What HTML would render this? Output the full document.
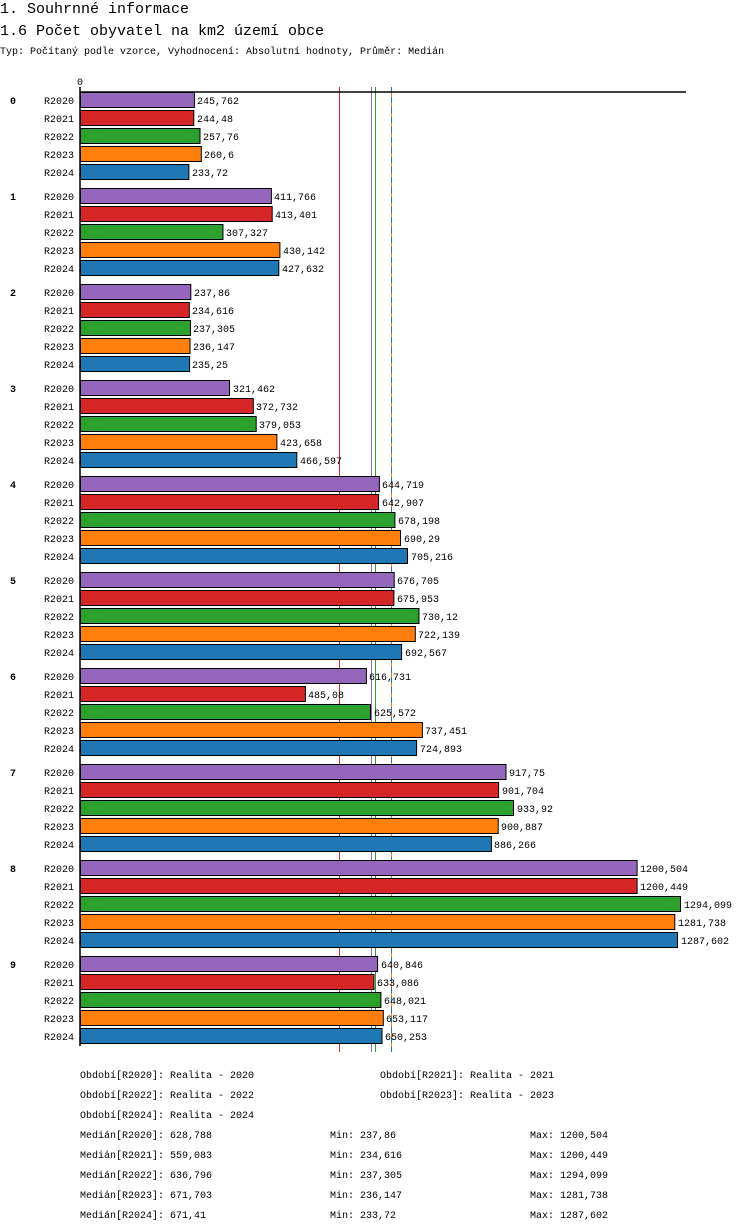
<!DOCTYPE html>
<html><head><meta charset="utf-8"><style>
body{margin:0;background:#fff;width:750px;height:1232px;overflow:hidden}
svg{display:block;font-family:"Liberation Mono",monospace}
.t{font-size:10px;fill:#000}
.h{font-size:15px;font-weight:normal;fill:#000}
.g{font-size:10px;font-weight:bold}
rect{stroke:#000;stroke-width:1}
.a{fill:#9467bd}.b{fill:#d62728}.c{fill:#2ca02c}.d{fill:#ff7f0e}.e{fill:#1f77b4}
.l{text-anchor:end}
</style></head><body>
<svg width="750" height="1232" viewBox="0 0 750 1232">
<text class="h" x="0" y="13">1. Souhrnné informace</text>
<text class="h" x="0" y="35">1.6 Počet obyvatel na km2 území obce</text>
<text class="t" x="0" y="54">Typ: Počítaný podle vzorce, Vyhodnocení: Absolutní hodnoty, Průměr: Medián</text>
<text class="t" x="77" y="85">0</text>
<line x1="339.5" y1="87" x2="339.5" y2="1052" stroke="#d62728"/>
<line x1="371.5" y1="87" x2="371.5" y2="1052" stroke="#9467bd"/>
<line x1="375.5" y1="87" x2="375.5" y2="1052" stroke="#2ca02c"/>
<line x1="391.5" y1="87" x2="391.5" y2="1052" stroke="#ff7f0e"/>
<line x1="391.5" y1="87" x2="391.5" y2="1052" stroke="#1f77b4" stroke-dasharray="6,4"/>
<line x1="80" y1="92" x2="686" y2="92" stroke="#000" stroke-width="1.5"/>
<line x1="80" y1="87" x2="80" y2="1046" stroke="#000" stroke-width="1.5"/>

<g transform="translate(0,92)">
<text class="g" x="10" y="12">0</text>
<text class="t l" x="74" y="12">R2020</text><text class="t l" x="74" y="30">R2021</text><text class="t l" x="74" y="48">R2022</text><text class="t l" x="74" y="66">R2023</text><text class="t l" x="74" y="84">R2024</text>
<rect class="a" x="80.5" y="0.5" width="113.9" height="15"/><text class="t" x="197" y="12">245,762</text>
<rect class="b" x="80.5" y="18.5" width="113.3" height="15"/><text class="t" x="197" y="30">244,48</text>
<rect class="c" x="80.5" y="36.5" width="119.5" height="15"/><text class="t" x="203" y="48">257,76</text>
<rect class="d" x="80.5" y="54.5" width="120.8" height="15"/><text class="t" x="204" y="66">260,6</text>
<rect class="e" x="80.5" y="72.5" width="108.4" height="15"/><text class="t" x="192" y="84">233,72</text>
</g>
<g transform="translate(0,188)">
<text class="g" x="10" y="12">1</text>
<text class="t l" x="74" y="12">R2020</text><text class="t l" x="74" y="30">R2021</text><text class="t l" x="74" y="48">R2022</text><text class="t l" x="74" y="66">R2023</text><text class="t l" x="74" y="84">R2024</text>
<rect class="a" x="80.5" y="0.5" width="190.9" height="15"/><text class="t" x="274" y="12">411,766</text>
<rect class="b" x="80.5" y="18.5" width="191.7" height="15"/><text class="t" x="275" y="30">413,401</text>
<rect class="c" x="80.5" y="36.5" width="142.5" height="15"/><text class="t" x="226" y="48">307,327</text>
<rect class="d" x="80.5" y="54.5" width="199.4" height="15"/><text class="t" x="283" y="66">430,142</text>
<rect class="e" x="80.5" y="72.5" width="198.3" height="15"/><text class="t" x="282" y="84">427,632</text>
</g>
<g transform="translate(0,284)">
<text class="g" x="10" y="12">2</text>
<text class="t l" x="74" y="12">R2020</text><text class="t l" x="74" y="30">R2021</text><text class="t l" x="74" y="48">R2022</text><text class="t l" x="74" y="66">R2023</text><text class="t l" x="74" y="84">R2024</text>
<rect class="a" x="80.5" y="0.5" width="110.3" height="15"/><text class="t" x="194" y="12">237,86</text>
<rect class="b" x="80.5" y="18.5" width="108.8" height="15"/><text class="t" x="192" y="30">234,616</text>
<rect class="c" x="80.5" y="36.5" width="110.0" height="15"/><text class="t" x="193" y="48">237,305</text>
<rect class="d" x="80.5" y="54.5" width="109.5" height="15"/><text class="t" x="193" y="66">236,147</text>
<rect class="e" x="80.5" y="72.5" width="109.1" height="15"/><text class="t" x="192" y="84">235,25</text>
</g>
<g transform="translate(0,380)">
<text class="g" x="10" y="12">3</text>
<text class="t l" x="74" y="12">R2020</text><text class="t l" x="74" y="30">R2021</text><text class="t l" x="74" y="48">R2022</text><text class="t l" x="74" y="66">R2023</text><text class="t l" x="74" y="84">R2024</text>
<rect class="a" x="80.5" y="0.5" width="149.0" height="15"/><text class="t" x="233" y="12">321,462</text>
<rect class="b" x="80.5" y="18.5" width="172.8" height="15"/><text class="t" x="256" y="30">372,732</text>
<rect class="c" x="80.5" y="36.5" width="175.7" height="15"/><text class="t" x="259" y="48">379,053</text>
<rect class="d" x="80.5" y="54.5" width="196.4" height="15"/><text class="t" x="280" y="66">423,658</text>
<rect class="e" x="80.5" y="72.5" width="216.3" height="15"/><text class="t" x="300" y="84">466,597</text>
</g>
<g transform="translate(0,476)">
<text class="g" x="10" y="12">4</text>
<text class="t l" x="74" y="12">R2020</text><text class="t l" x="74" y="30">R2021</text><text class="t l" x="74" y="48">R2022</text><text class="t l" x="74" y="66">R2023</text><text class="t l" x="74" y="84">R2024</text>
<rect class="a" x="80.5" y="0.5" width="298.9" height="15"/><text class="t" x="382" y="12">644,719</text>
<rect class="b" x="80.5" y="18.5" width="298.1" height="15"/><text class="t" x="382" y="30">642,907</text>
<rect class="c" x="80.5" y="36.5" width="314.4" height="15"/><text class="t" x="398" y="48">678,198</text>
<rect class="d" x="80.5" y="54.5" width="320.0" height="15"/><text class="t" x="404" y="66">690,29</text>
<rect class="e" x="80.5" y="72.5" width="327.0" height="15"/><text class="t" x="411" y="84">705,216</text>
</g>
<g transform="translate(0,572)">
<text class="g" x="10" y="12">5</text>
<text class="t l" x="74" y="12">R2020</text><text class="t l" x="74" y="30">R2021</text><text class="t l" x="74" y="48">R2022</text><text class="t l" x="74" y="66">R2023</text><text class="t l" x="74" y="84">R2024</text>
<rect class="a" x="80.5" y="0.5" width="313.7" height="15"/><text class="t" x="397" y="12">676,705</text>
<rect class="b" x="80.5" y="18.5" width="313.4" height="15"/><text class="t" x="397" y="30">675,953</text>
<rect class="c" x="80.5" y="36.5" width="338.5" height="15"/><text class="t" x="422" y="48">730,12</text>
<rect class="d" x="80.5" y="54.5" width="334.8" height="15"/><text class="t" x="418" y="66">722,139</text>
<rect class="e" x="80.5" y="72.5" width="321.1" height="15"/><text class="t" x="405" y="84">692,567</text>
</g>
<g transform="translate(0,668)">
<text class="g" x="10" y="12">6</text>
<text class="t l" x="74" y="12">R2020</text><text class="t l" x="74" y="30">R2021</text><text class="t l" x="74" y="48">R2022</text><text class="t l" x="74" y="66">R2023</text><text class="t l" x="74" y="84">R2024</text>
<rect class="a" x="80.5" y="0.5" width="285.9" height="15"/><text class="t" x="369" y="12">616,731</text>
<rect class="b" x="80.5" y="18.5" width="224.9" height="15"/><text class="t" x="308" y="30">485,08</text>
<rect class="c" x="80.5" y="36.5" width="290.0" height="15"/><text class="t" x="374" y="48">625,572</text>
<rect class="d" x="80.5" y="54.5" width="341.9" height="15"/><text class="t" x="425" y="66">737,451</text>
<rect class="e" x="80.5" y="72.5" width="336.1" height="15"/><text class="t" x="420" y="84">724,893</text>
</g>
<g transform="translate(0,764)">
<text class="g" x="10" y="12">7</text>
<text class="t l" x="74" y="12">R2020</text><text class="t l" x="74" y="30">R2021</text><text class="t l" x="74" y="48">R2022</text><text class="t l" x="74" y="66">R2023</text><text class="t l" x="74" y="84">R2024</text>
<rect class="a" x="80.5" y="0.5" width="425.5" height="15"/><text class="t" x="509" y="12">917,75</text>
<rect class="b" x="80.5" y="18.5" width="418.1" height="15"/><text class="t" x="502" y="30">901,704</text>
<rect class="c" x="80.5" y="36.5" width="433.0" height="15"/><text class="t" x="517" y="48">933,92</text>
<rect class="d" x="80.5" y="54.5" width="417.7" height="15"/><text class="t" x="501" y="66">900,887</text>
<rect class="e" x="80.5" y="72.5" width="410.9" height="15"/><text class="t" x="494" y="84">886,266</text>
</g>
<g transform="translate(0,860)">
<text class="g" x="10" y="12">8</text>
<text class="t l" x="74" y="12">R2020</text><text class="t l" x="74" y="30">R2021</text><text class="t l" x="74" y="48">R2022</text><text class="t l" x="74" y="66">R2023</text><text class="t l" x="74" y="84">R2024</text>
<rect class="a" x="80.5" y="0.5" width="556.6" height="15"/><text class="t" x="640" y="12">1200,504</text>
<rect class="b" x="80.5" y="18.5" width="556.6" height="15"/><text class="t" x="640" y="30">1200,449</text>
<rect class="c" x="80.5" y="36.5" width="600" height="15"/><text class="t" x="684" y="48">1294,099</text>
<rect class="d" x="80.5" y="54.5" width="594.3" height="15"/><text class="t" x="678" y="66">1281,738</text>
<rect class="e" x="80.5" y="72.5" width="597.0" height="15"/><text class="t" x="681" y="84">1287,602</text>
</g>
<g transform="translate(0,956)">
<text class="g" x="10" y="12">9</text>
<text class="t l" x="74" y="12">R2020</text><text class="t l" x="74" y="30">R2021</text><text class="t l" x="74" y="48">R2022</text><text class="t l" x="74" y="66">R2023</text><text class="t l" x="74" y="84">R2024</text>
<rect class="a" x="80.5" y="0.5" width="297.1" height="15"/><text class="t" x="381" y="12">640,846</text>
<rect class="b" x="80.5" y="18.5" width="293.5" height="15"/><text class="t" x="377" y="30">633,086</text>
<rect class="c" x="80.5" y="36.5" width="300.4" height="15"/><text class="t" x="384" y="48">648,021</text>
<rect class="d" x="80.5" y="54.5" width="302.8" height="15"/><text class="t" x="386" y="66">653,117</text>
<rect class="e" x="80.5" y="72.5" width="301.5" height="15"/><text class="t" x="385" y="84">650,253</text>
</g>

<text class="t" x="80" y="1078">Období[R2020]: Realita - 2020</text>
<text class="t" x="380" y="1078">Období[R2021]: Realita - 2021</text>
<text class="t" x="80" y="1098">Období[R2022]: Realita - 2022</text>
<text class="t" x="380" y="1098">Období[R2023]: Realita - 2023</text>
<text class="t" x="80" y="1118">Období[R2024]: Realita - 2024</text>
<text class="t" x="80" y="1138">Medián[R2020]: 628,788</text><text class="t" x="330" y="1138">Min: 237,86</text><text class="t" x="530" y="1138">Max: 1200,504</text>
<text class="t" x="80" y="1158">Medián[R2021]: 559,083</text><text class="t" x="330" y="1158">Min: 234,616</text><text class="t" x="530" y="1158">Max: 1200,449</text>
<text class="t" x="80" y="1178">Medián[R2022]: 636,796</text><text class="t" x="330" y="1178">Min: 237,305</text><text class="t" x="530" y="1178">Max: 1294,099</text>
<text class="t" x="80" y="1198">Medián[R2023]: 671,703</text><text class="t" x="330" y="1198">Min: 236,147</text><text class="t" x="530" y="1198">Max: 1281,738</text>
<text class="t" x="80" y="1218">Medián[R2024]: 671,41</text><text class="t" x="330" y="1218">Min: 233,72</text><text class="t" x="530" y="1218">Max: 1287,602</text>
</svg>
</body></html>
